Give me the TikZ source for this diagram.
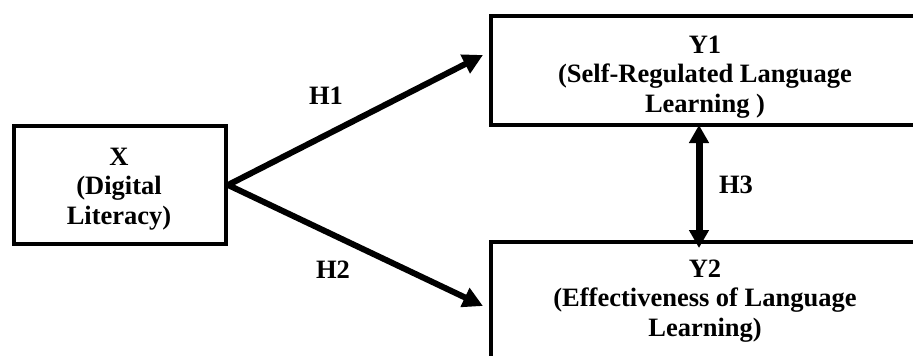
\documentclass[tikz,border=0pt]{standalone}
\usepackage{fontspec}
\setmainfont{Liberation Serif}
\usetikzlibrary{arrows.meta}
\begin{document}
\begin{tikzpicture}[x=1pt,y=-1pt,
  boxshape/.style={draw=black,line width=4pt,rectangle,inner sep=0pt},
  lbl/.style={font=\bfseries\fontsize{26.5}{29.5}\selectfont,align=center,inner sep=0pt},
  hlbl/.style={font=\bfseries\fontsize{26.5}{29.5}\selectfont,inner sep=0pt},
  conn/.style={line width=6pt,-{Triangle[length=20pt,width=20pt]}},
  conn2/.style={line width=7pt,{Triangle[length=18pt,width=19pt]}-{Triangle[length=18pt,width=19pt]}}]
\useasboundingbox (0,0) rectangle (913,356);
\begin{scope}
\clip (0,0) rectangle (913,356);
\node[boxshape,minimum width=212pt,minimum height=118pt,anchor=north west] (X) at (12,124) {};
\node[boxshape,minimum width=480pt,minimum height=109pt,anchor=north west] (Y1) at (489,14) {};
\node[boxshape,minimum width=480pt,minimum height=160pt,anchor=north west] (Y2) at (489,240) {};
\end{scope}
\node[lbl] (Xt) at (119,189) {X\\(Digital\\Literacy)};
\node[lbl] (Y1t) at (705,77) {Y1\\(Self-Regulated Language\\Learning )};
\node[lbl] (Y2t) at (705,301) {Y2\\(Effectiveness of Language\\Learning)};
\coordinate (t1) at (483,55);
\coordinate (t2) at (483,306);
\coordinate (h3a) at (699,125);
\coordinate (h3b) at (699,248);
\draw[conn] (X.east) -- (t1);
\draw[conn] (X.east) -- (t2);
\draw[conn2] (h3a) -- (h3b);
\node[hlbl] (H1) at (326,96) {H1};
\node[hlbl] (H2) at (333,270) {H2};
\node[hlbl] (H3) at (736,185) {H3};
\end{tikzpicture}
\end{document}
